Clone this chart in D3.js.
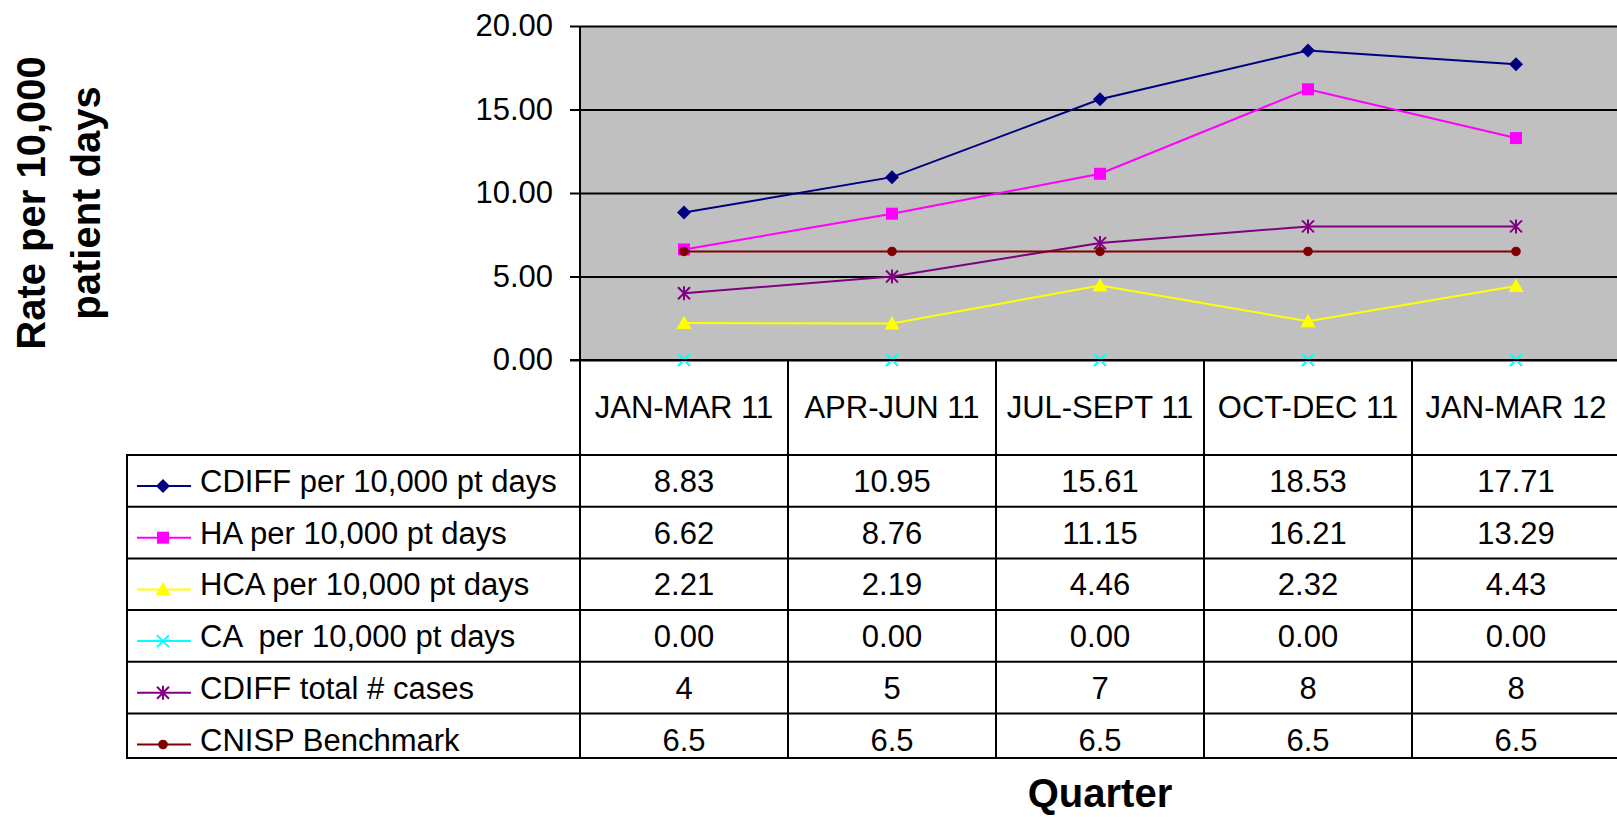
<!DOCTYPE html>
<html lang="en">
<head>
    <meta charset="UTF-8">
    <script src="https://cdn.jsdelivr.net/npm/d3@7"></script>
    <title>CDIFF rates</title>
    <style>
        body { margin: 0; background: white; }
        svg { display: block; font-family: "Liberation Sans", Arial, sans-serif; }
        .axis path { display: none; }
        .axis text { font-size: 31px; fill: #000; }
        .grid line { stroke: #000; stroke-width: 2px; }
        .grid path { display: none; }
        .cell { font-size: 31px; }
        .title { font-size: 40px; font-weight: bold; }
    </style>
</head>
<body>
<div id="chart"></div>
<script>
    // Data
    const quarters = ["JAN-MAR 11", "APR-JUN 11", "JUL-SEPT 11", "OCT-DEC 11", "JAN-MAR 12"];
    const seriesNames = ["CDIFF per 10,000 pt days", "HA per 10,000 pt days", "HCA per 10,000 pt days",
        "CA  per 10,000 pt days", "CDIFF total # cases", "CNISP Benchmark"];
    const cdiffRate = [8.83, 10.95, 15.61, 18.53, 17.71];
    const haRate = [6.62, 8.76, 11.15, 16.21, 13.29];
    const hcaRate = [2.21, 2.19, 4.46, 2.32, 4.43];
    const caRate = [0, 0, 0, 0, 0];
    const cdiffCases = [4, 5, 7, 8, 8];
    const cnisp = [6.5, 6.5, 6.5, 6.5, 6.5];
    const yTicks = [0, 5, 10, 15, 20];

    const series = [
        { name: seriesNames[0], values: cdiffRate, color: "#000080", symbol: "diamond", fmt: d3.format(".2f") },
        { name: seriesNames[1], values: haRate, color: "#FF00FF", symbol: "square", fmt: d3.format(".2f") },
        { name: seriesNames[2], values: hcaRate, color: "#FFFF00", symbol: "triangle", fmt: d3.format(".2f") },
        { name: seriesNames[3], values: caRate, color: "#00FFFF", symbol: "x", fmt: d3.format(".2f") },
        { name: seriesNames[4], values: cdiffCases, color: "#800080", symbol: "star", fmt: d => String(d) },
        { name: seriesNames[5], values: cnisp, color: "#800000", symbol: "circle", fmt: d => String(d) }
    ];

    const width = 1617, height = 817;
    const plotLeft = 580, plotRight = 1620, plotTop = 26, plotBottom = 360;
    const tableLeft = 127, headerBottom = 455, tableBottom = 758;

    const svg = d3.select("#chart").append("svg")
        .attr("width", width)
        .attr("height", height);

    const x = d3.scaleBand().domain(quarters).range([plotLeft, plotRight]);
    const y = d3.scaleLinear().domain([0, 20]).range([plotBottom, plotTop]);
    const row = d3.scaleBand().domain(seriesNames).range([headerBottom, headerBottom + 6 * 51.7]);

    // plot area
    svg.append("rect")
        .attr("x", plotLeft).attr("y", plotTop)
        .attr("width", plotRight - plotLeft).attr("height", plotBottom - plotTop)
        .attr("fill", "#C0C0C0");

    svg.append("g")
        .attr("class", "grid")
        .attr("transform", `translate(${plotLeft},0)`)
        .call(d3.axisLeft(y).tickValues(yTicks).tickSize(-(plotRight - plotLeft)).tickFormat(""));

    const yAxis = svg.append("g")
        .attr("class", "axis")
        .attr("transform", `translate(${plotLeft},0)`)
        .call(d3.axisLeft(y).tickValues(yTicks).tickFormat(d3.format(".2f")).tickSize(10).tickPadding(17));
    yAxis.selectAll("line").attr("stroke", "#000").attr("stroke-width", 2);

    // markers
    const symbolPath = (type) => {
        switch (type) {
            case "diamond": return "M0,-7L7,0L0,7L-7,0Z";
            case "square": return "M-6,-6H6V6H-6Z";
            case "triangle": return "M0,-7.5L7.5,6L-7.5,6Z";
            case "x": return "M-6,-6L6,6M-6,6L6,-6";
            case "star": return "M-6,-6L6,6M-6,6L6,-6M0,-7L0,7";
            case "circle": return "M4.8,0A4.8,4.8 0 1,1 -4.8,0A4.8,4.8 0 1,1 4.8,0Z";
        }
    };
    const isStroke = t => t === "x" || t === "star";

    const line = d3.line()
        .x((d, i) => x(quarters[i]) + x.bandwidth() / 2)
        .y(d => y(d));

    series.forEach(s => {
        if (s.symbol !== "x") {
            svg.append("path")
                .attr("d", line(s.values))
                .attr("fill", "none")
                .attr("stroke", s.color)
                .attr("stroke-width", 2);
        }
        svg.selectAll(null)
            .data(s.values)
            .enter()
            .append("path")
            .attr("transform", (d, i) => `translate(${x(quarters[i]) + x.bandwidth() / 2},${y(d)})`)
            .attr("d", symbolPath(s.symbol))
            .attr("fill", isStroke(s.symbol) ? "none" : s.color)
            .attr("stroke", isStroke(s.symbol) ? s.color : "none")
            .attr("stroke-width", 2);
    });

    // data table
    const table = svg.append("g");
    const hLine = (x1, x2, yy) => table.append("line")
        .attr("x1", x1).attr("x2", x2).attr("y1", yy).attr("y2", yy)
        .attr("stroke", "#000").attr("stroke-width", 2);
    const vLine = (xx, y1, y2) => table.append("line")
        .attr("x1", xx).attr("x2", xx).attr("y1", y1).attr("y2", y2)
        .attr("stroke", "#000").attr("stroke-width", 2);

    hLine(plotLeft - 10, plotRight, plotBottom);
    hLine(tableLeft, plotRight, headerBottom);
    seriesNames.forEach((n, i) => { if (i > 0) hLine(tableLeft, plotRight, row(n)); });
    hLine(tableLeft, plotRight, tableBottom);
    vLine(tableLeft, headerBottom - 1, tableBottom + 1);
    vLine(plotLeft, plotTop, tableBottom + 1);
    quarters.forEach((q, i) => { if (i > 0) vLine(x(q), plotBottom, tableBottom); });

    table.selectAll(".head")
        .data(quarters)
        .enter()
        .append("text")
        .attr("class", "cell")
        .attr("x", d => x(d) + x.bandwidth() / 2)
        .attr("y", 418)
        .attr("text-anchor", "middle")
        .text(d => d);

    series.forEach(s => {
        const ry = row(s.name) + 37;
        table.append("line")
            .attr("x1", 137).attr("x2", 191).attr("y1", ry - 6).attr("y2", ry - 6)
            .attr("stroke", s.color).attr("stroke-width", 2);
        table.append("path")
            .attr("transform", `translate(163,${ry - 6})`)
            .attr("d", symbolPath(s.symbol))
            .attr("fill", isStroke(s.symbol) ? "none" : s.color)
            .attr("stroke", isStroke(s.symbol) ? s.color : "none")
            .attr("stroke-width", 2);
        table.append("text")
            .attr("class", "cell")
            .attr("x", 200).attr("y", ry)
            .attr("xml:space", "preserve")
            .style("white-space", "pre")
            .text(s.name);
        table.selectAll(null)
            .data(s.values)
            .enter()
            .append("text")
            .attr("class", "cell")
            .attr("x", (d, i) => x(quarters[i]) + x.bandwidth() / 2)
            .attr("y", ry)
            .attr("text-anchor", "middle")
            .text(d => s.fmt(d));
    });

    // axis titles
    const yTitle = svg.append("text")
        .attr("class", "title")
        .attr("transform", "translate(45,203) rotate(-90)")
        .attr("text-anchor", "middle");
    yTitle.append("tspan").attr("x", 0).attr("y", 0).text("Rate per 10,000");
    yTitle.append("tspan").attr("x", 0).attr("y", 55).text("patient days");

    svg.append("text")
        .attr("class", "title")
        .attr("x", (plotLeft + plotRight) / 2)
        .attr("y", 807)
        .attr("text-anchor", "middle")
        .text("Quarter");
</script>
</body>
</html>
